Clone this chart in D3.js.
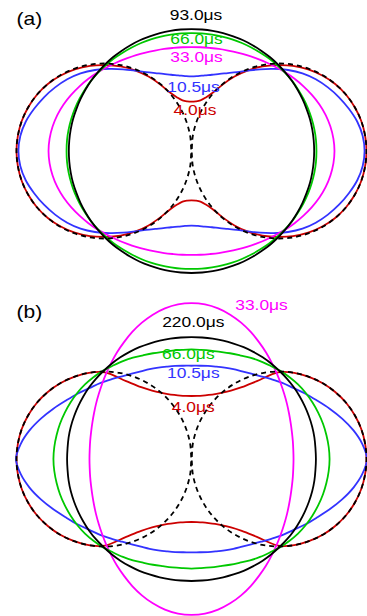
<!DOCTYPE html>
<html><head><meta charset="utf-8">
<script src="https://cdn.jsdelivr.net/npm/d3@7"></script>
<style>
html,body{margin:0;padding:0;background:#fff;}
svg{display:block;}
text{font-family:"Liberation Sans",Arial,Helvetica,sans-serif;}
</style></head>
<body>
<script>
// angle (degrees) of the quadrant samples; the curves are symmetric about both axes
const angles = [0,5,10,15,20,25,30,35,40,45,50,55,60,65,70,75,80,85,90];

// dashed reference curve (both panels), radius normalised to its maximum
const rDashed = [1.000,0.996,0.985,0.966,0.940,0.906,0.866,0.819,0.766,0.707,0.643,0.574,0.500,0.423,0.342,0.259,0.174,0.087,0.000];

// panel (a)
const labelsA = ["4.0μs","10.5μs","33.0μs","66.0μs","93.0μs"];
const rA_4_0  = [1.000,0.996,0.985,0.966,0.940,0.906,0.863,0.814,0.757,0.694,0.631,0.563,0.491,0.417,0.354,0.317,0.294,0.285,0.282];
const rA_10_5 = [0.989,0.982,0.962,0.931,0.897,0.860,0.820,0.774,0.720,0.663,0.609,0.560,0.520,0.491,0.469,0.451,0.439,0.430,0.426];
const rA_33_0 = [0.817,0.814,0.806,0.794,0.778,0.759,0.739,0.719,0.699,0.679,0.662,0.646,0.633,0.621,0.611,0.604,0.598,0.595,0.594];
const rA_66_0 = [0.714,0.714,0.713,0.711,0.709,0.706,0.703,0.701,0.697,0.693,0.690,0.686,0.683,0.681,0.679,0.677,0.675,0.675,0.674];
const rA_93_0 = [0.701,0.701,0.701,0.701,0.700,0.700,0.700,0.700,0.699,0.699,0.699,0.698,0.698,0.698,0.697,0.697,0.697,0.697,0.697];

// panel (b)
const labelsB = ["4.0μs","10.5μs","33.0μs","66.0μs","220.0μs"];
const rB_4_0  = [1.000,0.996,0.985,0.966,0.940,0.906,0.866,0.819,0.766,0.700,0.581,0.501,0.451,0.418,0.395,0.379,0.368,0.362,0.360];
const rB_10_5 = [1.003,0.980,0.940,0.891,0.840,0.791,0.749,0.709,0.677,0.645,0.617,0.595,0.578,0.566,0.555,0.546,0.540,0.535,0.533];
const rB_33_0 = [0.583,0.584,0.588,0.594,0.603,0.615,0.630,0.647,0.667,0.690,0.715,0.743,0.771,0.801,0.829,0.854,0.874,0.887,0.891];
const rB_66_0 = [0.789,0.787,0.783,0.778,0.771,0.763,0.754,0.743,0.729,0.714,0.697,0.683,0.669,0.654,0.643,0.634,0.629,0.626,0.626];
const rB_220_0= [0.711,0.711,0.713,0.714,0.714,0.714,0.714,0.714,0.713,0.711,0.710,0.709,0.707,0.705,0.702,0.700,0.698,0.697,0.697];

const colors = ["#cc0000","#3333ff","#ff00ff","#00c800","#000000"];
const textColors = ["#cc0000","#3333ff","#ff00ff","#00c800","#000000"];

const W = 367, H = 616;
const svg = d3.select("body").append("svg").attr("width", W).attr("height", H);

function fullCurve(r){
  const pts = [];
  const n = angles.length;
  for (let i = 0; i < n; i++) pts.push({t: angles[i], r: r[i]});
  for (let i = n-2; i >= 0; i--) pts.push({t: 180 - angles[i], r: r[i]});
  for (let i = 1; i < n; i++) pts.push({t: 180 + angles[i], r: r[i]});
  for (let i = n-2; i >= 1; i--) pts.push({t: 360 - angles[i], r: r[i]});
  return pts;
}

function stretchedText(g, x, y, s, size, color, anchor){
  g.append("text").attr("transform", `translate(${x},${y}) scale(1.2,1)`)
    .attr("text-anchor", anchor).attr("font-size", size).attr("fill", color).text(s);
}

function panel(cx, cy, curves, labels, labelPos, tag, tagY){
  const x = d3.scaleLinear().domain([-1,1]).range([cx-175, cx+175]);
  const y = d3.scaleLinear().domain([-1,1]).range([cy+175, cy-175]);
  const line = d3.line()
    .x(d => x(d.r*Math.cos(d.t*Math.PI/180)))
    .y(d => y(d.r*Math.sin(d.t*Math.PI/180)))
    .curve(d3.curveCatmullRomClosed.alpha(0.5));
  const g = svg.append("g");
  curves.forEach((r, i) => {
    g.append("path").attr("d", line(fullCurve(r)))
      .attr("fill","none").attr("stroke", colors[i]).attr("stroke-width", 1.8);
  });
  g.append("path").attr("d", line(fullCurve(rDashed)))
    .attr("fill","none").attr("stroke","#000").attr("stroke-width",1.8)
    .attr("stroke-dasharray","5,4");
  labels.forEach((s, i) => {
    stretchedText(g, labelPos[i][0], labelPos[i][1], s, 14.5, textColors[i], "middle");
  });
  stretchedText(g, 16.5, tagY, tag, 17.5, "#000", "start");
}

panel(191.5, 151, [rA_4_0, rA_10_5, rA_33_0, rA_66_0, rA_93_0], labelsA,
  [[195,115],[193.5,91.7],[196.5,62.3],[196.5,43.5],[196,19.5]], "(a)", 24.5);
panel(191.5, 459, [rB_4_0, rB_10_5, rB_33_0, rB_66_0, rB_220_0], labelsB,
  [[193.3,411.7],[193.3,378.3],[261.5,310],[188.3,359.3],[193.3,327.3]], "(b)", 318);
</script>
</body></html>
